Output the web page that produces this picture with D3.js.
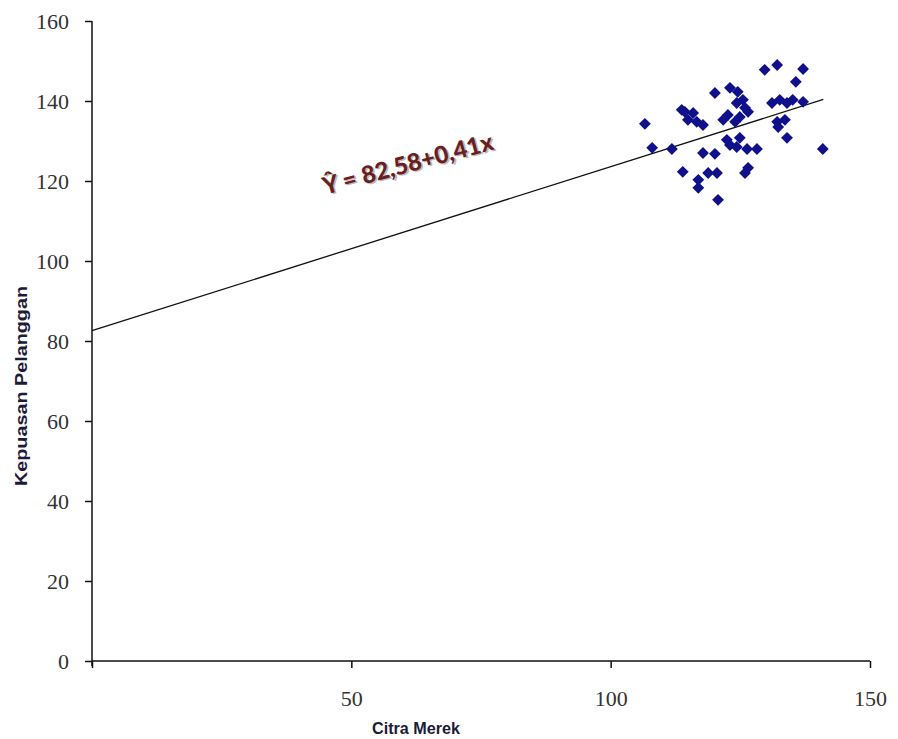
<!DOCTYPE html>
<html>
<head>
<meta charset="utf-8">
<script src="https://cdn.jsdelivr.net/npm/d3@7"></script>
<style>
  body { margin: 0; background: #fff; }
</style>
</head>
<body>
<script>
const width = 898;
const height = 739;
const margin = {top: 21, right: 28, bottom: 78, left: 92};

// Citra Merek (x) vs Kepuasan Pelanggan (y)
const citraMerek = [129.7, 132.1, 137.1, 135.7, 120.1, 123.0, 124.5, 125.5, 124.3, 126.5,
    124.9, 121.7, 124.0, 131.1, 132.6, 134.0, 135.1, 137.1, 132.1, 133.6,
    132.3, 134.0, 114.3, 115.9, 114.9, 116.6, 117.8, 106.6, 108.0, 111.8,
    117.8, 120.1, 123.0, 124.9, 124.3, 126.3, 128.2, 140.9, 113.9, 118.8,
    120.5, 126.5, 125.9, 116.9, 116.9, 120.7, 113.7, 122.6, 125.9, 122.4];
const kepuasan = [147.8, 149.0, 148.0, 144.8, 142.0, 143.3, 142.3, 140.3, 139.5, 137.3,
    136.0, 135.3, 134.8, 139.5, 140.3, 139.5, 140.3, 139.8, 134.8, 135.3,
    133.5, 130.8, 137.3, 137.0, 135.3, 134.8, 134.0, 134.3, 128.3, 128.0,
    127.0, 126.8, 129.0, 130.8, 128.5, 128.0, 128.0, 128.0, 122.3, 122.0,
    122.0, 123.3, 122.0, 120.3, 118.3, 115.3, 137.8, 136.5, 138.3, 130.3];

const xTicks = [0, 50, 100, 150];
const yTicks = [0, 20, 40, 60, 80, 100, 120, 140, 160];

// regression line
const intercept = 82.58;
const slope = 0.41;
const lineX = [0, 141];

const points = citraMerek.map(function (d, i) { return [d, kepuasan[i]]; });

const x = d3.scaleLinear()
    .domain([0, 150])
    .range([margin.left, width - margin.right]);

const y = d3.scaleLinear()
    .domain([0, 160])
    .range([height - margin.bottom, margin.top]);

const svg = d3.select("body")
    .append("svg")
    .attr("width", width)
    .attr("height", height);

const serif = "'Liberation Serif', 'Times New Roman', serif";

// x axis
svg.append("g")
    .attr("transform", "translate(0," + y(0) + ")")
    .call(d3.axisBottom(x).tickValues(xTicks).tickSize(7).tickPadding(22)
        .tickFormat(function (d) { return d === 0 ? "" : d; }))
    .call(function (g) {
        g.select(".domain").attr("stroke", "#111").attr("stroke-width", 1.5).attr("d", "M" + x(0) + ",0H" + x(150));
        g.selectAll(".tick line").attr("stroke", "#111").attr("stroke-width", 1.5);
        g.selectAll("text").attr("font-family", serif).attr("font-size", 22).attr("fill", "#333");
    });

// y axis
svg.append("g")
    .attr("transform", "translate(" + x(0) + ",0)")
    .call(d3.axisLeft(y).tickValues(yTicks).tickSize(7).tickPadding(16))
    .call(function (g) {
        g.select(".domain").attr("stroke", "#111").attr("stroke-width", 1.5).attr("d", "M0," + y(160) + "V" + (y(0) + 5));
        g.selectAll(".tick line").attr("stroke", "#111").attr("stroke-width", 1.5);
        g.selectAll("text").attr("font-family", serif).attr("font-size", 22).attr("fill", "#333");
    });

// axis titles
svg.append("text")
    .attr("x", 416)
    .attr("y", 734)
    .attr("text-anchor", "middle")
    .attr("font-family", "'Liberation Sans', Arial, sans-serif")
    .attr("font-weight", "bold")
    .attr("font-size", 17)
    .attr("textLength", 88)
    .attr("lengthAdjust", "spacingAndGlyphs")
    .attr("fill", "#1b1b3a")
    .text("Citra Merek");

svg.append("text")
    .attr("transform", "translate(27,386) rotate(-90)")
    .attr("text-anchor", "middle")
    .attr("font-family", "'Liberation Sans', Arial, sans-serif")
    .attr("font-weight", "bold")
    .attr("font-size", 17)
    .attr("textLength", 200)
    .attr("lengthAdjust", "spacingAndGlyphs")
    .attr("fill", "#1b1b3a")
    .text("Kepuasan Pelanggan");

// regression line
svg.append("line")
    .attr("x1", x(lineX[0]))
    .attr("y1", y(intercept + slope * lineX[0]))
    .attr("x2", x(lineX[1]))
    .attr("y2", y(intercept + slope * lineX[1]))
    .attr("stroke", "#111")
    .attr("stroke-width", 1.3);

// points
svg.append("g")
    .attr("fill", "#10108a")
    .selectAll("path")
    .data(points)
    .join("path")
    .attr("d", d3.symbol().type(d3.symbolSquare).size(70))
    .attr("transform", function (d) { return "translate(" + x(d[0]) + "," + y(d[1]) + ") rotate(45)"; });

// equation label
const eq = svg.append("g")
    .attr("transform", "translate(410,172) rotate(-15)");
eq.append("text")
    .attr("x", 1.5).attr("y", 1.5)
    .attr("text-anchor", "middle")
    .attr("font-family", "Lato, 'Open Sans', sans-serif")
    .attr("font-weight", 900)
    .attr("font-size", 24)
    .attr("fill", "#bbb")
    .text("Ŷ = 82,58+0,41x");
eq.append("text")
    .attr("text-anchor", "middle")
    .attr("font-family", "Lato, 'Open Sans', sans-serif")
    .attr("font-weight", 900)
    .attr("font-size", 24)
    .attr("fill", "#6b1e22")
    .text("Ŷ = 82,58+0,41x");
</script>
</body>
</html>
